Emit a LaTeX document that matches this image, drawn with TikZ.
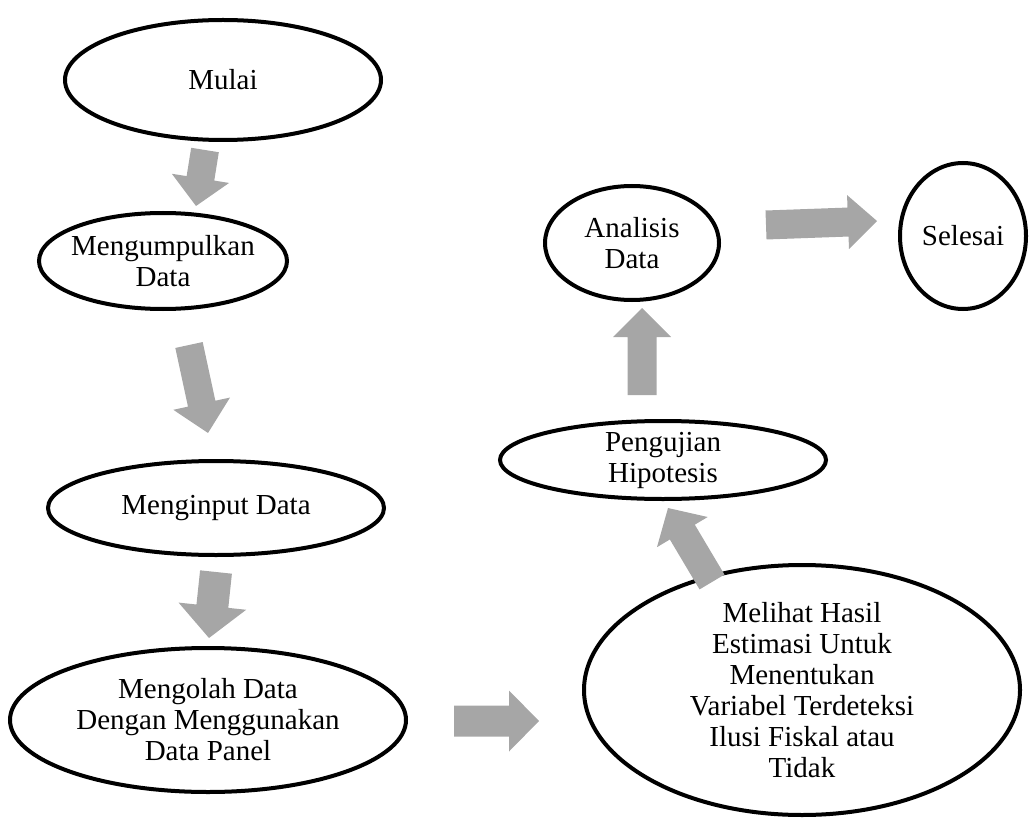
\documentclass[tikz,border=0pt]{standalone}
\usepackage{fontspec}
\setmainfont{Liberation Serif}
\usetikzlibrary{shapes.geometric,calc}
\definecolor{arrowgray}{RGB}{166,166,166}
\newcommand\blockarrow[5]{%
  \path let \p1=(#1), \p2=(#2), \n1={atan2(\y2-\y1,\x2-\x1)}, \n2={veclen(\x2-\x1,\y2-\y1)} in
    \pgfextra{\xdef\baang{\n1}\xdef\balen{\n2}};
  \pgfmathsetmacro\babase{\balen-#5}
  \pgfmathsetmacro\batip{\balen}
  \fill[arrowgray, shift={(#1)}, rotate=\baang]
    (0pt,-#3pt) -- (\babase pt,-#3pt) -- (\babase pt,-#4pt) -- (\batip pt,0pt)
    -- (\babase pt,#4pt) -- (\babase pt,#3pt) -- (0pt,#3pt) -- cycle;
}
\begin{document}
\begin{tikzpicture}[x=1pt,y=1pt,
  oval/.style={ellipse, draw=black, line width=4pt, inner sep=0pt},
  lbl/.style={align=center, font=\fontsize{29}{31}\selectfont, inner sep=0pt}]
\useasboundingbox (0,0) rectangle (1035,-818);
% ellipses
\node[oval, minimum width=316pt, minimum height=120pt] (mulai) at (223,-80) {};
\node[oval, minimum width=248pt, minimum height=96pt] (kumpul) at (163,-261) {};
\node[oval, minimum width=336pt, minimum height=94pt] (input) at (216,-508) {};
\node[oval, minimum width=396pt, minimum height=144pt] (olah) at (208,-720) {};
\node[oval, minimum width=436pt, minimum height=250pt] (lihat) at (802,-690) {};
\node[oval, minimum width=326pt, minimum height=78pt] (uji) at (663,-460) {};
\node[oval, minimum width=174pt, minimum height=114pt] (analisis) at (632,-243) {};
\node[oval, minimum width=126pt, minimum height=146pt] (selesai) at (963,-236) {};
% texts
\node[lbl] (mulait) at (mulai) {Mulai};
\node[lbl] (kumpult) at (kumpul) {Mengumpulkan\\Data};
\node[lbl] (inputt) at (input) {Menginput Data};
\node[lbl] (olaht) at (olah) {Mengolah Data\\Dengan Menggunakan\\Data Panel};
\node[lbl] (lihatt) at (lihat) {Melihat Hasil\\Estimasi Untuk\\Menentukan\\Variabel Terdeteksi\\Ilusi Fiskal atau\\Tidak};
\node[lbl] (ujit) at (uji) {Pengujian\\Hipotesis};
\node[lbl] (analisist) at (analisis) {Analisis\\Data};
\node[lbl] (selesait) at (selesai) {Selesai};
% arrow end points
\coordinate (a1s) at (205,-150); \coordinate (a1e) at (196,-206);
\coordinate (a2s) at (189,-345); \coordinate (a2e) at (208,-433);
\coordinate (a3s) at (216,-572); \coordinate (a3e) at (209,-638);
\coordinate (a4s) at (454,-721); \coordinate (a4e) at (539,-721);
\coordinate (a5s) at (712,-582); \coordinate (a5e) at (668,-508);
\coordinate (a6s) at (642,-395); \coordinate (a6e) at (642,-308);
\coordinate (a7s) at (766,-225); \coordinate (a7e) at (877,-221);
\blockarrow{a1s}{a1e}{14}{29}{28}
\blockarrow{a2s}{a2e}{14}{29}{30}
\blockarrow{a3s}{a3e}{16}{34}{32}
\blockarrow{a4s}{a4e}{15.5}{30.5}{30}
\blockarrow{a5s}{a5e}{14.5}{29.5}{28}
\blockarrow{a6s}{a6e}{14.5}{29}{29}
\blockarrow{a7s}{a7e}{14.5}{27}{29}
\end{tikzpicture}
\end{document}
